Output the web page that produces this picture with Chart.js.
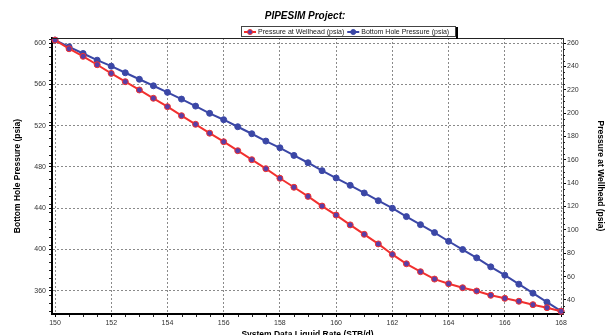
<!DOCTYPE html>
<html>
<head>
<meta charset="utf-8">
<script src="https://cdn.jsdelivr.net/npm/chart.js@4"></script>
<style>
html,body{margin:0;padding:0;background:#fff;}
#wrap{width:605px;height:335px;position:relative;}
canvas{display:block;}
</style>
</head>
<body>
<div id="wrap"><canvas id="c" width="605" height="335"></canvas></div>
<script>
// ---- data ----
const chartTitle = 'PIPESIM Project:';
const xTitle = 'System Data.Liquid Rate (STB/d)';
const leftTitle = 'Bottom Hole Pressure (psia)';
const rightTitle = 'Pressure at Wellhead (psia)';
const wellheadLabel = 'Pressure at Wellhead (psia)';
const bottomHoleLabel = 'Bottom Hole Pressure (psia)';

const rates = [150, 150.5, 151, 151.5, 152, 152.5, 153, 153.5, 154, 154.5,
               155, 155.5, 156, 156.5, 157, 157.5, 158, 158.5, 159, 159.5,
               160, 160.5, 161, 161.5, 162, 162.5, 163, 163.5, 164, 164.5,
               165, 165.5, 166, 166.5, 167, 167.5, 168];

const wellheadPressure = [262.5, 255.1, 248.6, 241.4, 234.0, 226.9, 219.8, 212.7, 205.5, 197.8,
                          190.4, 182.8, 175.5, 167.8, 160.1, 152.4, 144.2, 136.5, 128.7, 120.4,
                          112.7, 104.3, 96.2, 88.0, 79.0, 71.0, 64.2, 57.9, 53.9, 50.5,
                          47.7, 44.0, 41.4, 38.9, 36.0, 33.4, 30.3];

const bottomHolePressure = [603.0, 596.4, 590.0, 583.5, 577.7, 571.3, 565.0, 558.7, 552.3, 545.8,
                            539.0, 532.0, 525.8, 519.0, 512.2, 505.1, 498.6, 491.2, 484.1, 476.4,
                            469.3, 462.2, 454.8, 447.3, 440.0, 431.9, 424.1, 416.4, 408.0, 400.0,
                            391.9, 383.2, 375.1, 366.4, 357.7, 349.0, 340.3];

const xTicks = [150, 152, 154, 156, 158, 160, 162, 164, 166, 168];
const leftTicks = [360, 400, 440, 480, 520, 560, 600];
const rightTicks = [40, 60, 80, 100, 120, 140, 160, 180, 200, 220, 240, 260];

// ---- styling ----
const FONT = "'Liberation Sans', Arial, Helvetica, sans-serif";
const RED = '#f2302e';
const RED_FILL = '#5a3ea6';
const BLUE = '#3b47a6';
const GRID = '#8a8a8a';
const TICKTXT = '#333333';

const toPts = (xs, ys) => xs.map((x, i) => ({x: x, y: ys[i]}));

const decoPlugin = {
  id: 'deco',
  afterDraw(chart) {
    const ctx = chart.ctx;
    const a = chart.chartArea;
    const xs = chart.scales.x, yl = chart.scales.y, yr = chart.scales.y1;
    ctx.save();
    // top frame line
    ctx.strokeStyle = '#222';
    ctx.lineWidth = 1;
    ctx.beginPath();
    ctx.moveTo(a.left, Math.round(a.top) + 0.5);
    ctx.lineTo(a.right, Math.round(a.top) + 0.5);
    ctx.stroke();

    // minor ticks
    ctx.strokeStyle = '#222';
    ctx.beginPath();
    for (let v = 150; v <= 168; v += 0.5) {
      if (v % 2 === 0) continue;
      const px = Math.round(xs.getPixelForValue(v)) + 0.5;
      ctx.moveTo(px, a.bottom + 1);
      ctx.lineTo(px, a.bottom + 3);
    }
    for (let v = 340; v <= 604; v += 8) {
      if (v % 40 === 0) continue;
      const py = Math.round(yl.getPixelForValue(v)) + 0.5;
      ctx.moveTo(a.left - 3, py);
      ctx.lineTo(a.left - 1, py);
    }
    for (let v = 30; v <= 264; v += 5) {
      if (v % 20 === 0) continue;
      const py = Math.round(yr.getPixelForValue(v)) + 0.5;
      ctx.moveTo(a.right, py);
      ctx.lineTo(a.right + 2, py);
    }
    ctx.stroke();

    // chart title
    ctx.fillStyle = '#000';
    ctx.font = 'italic bold 10px ' + FONT;
    ctx.textAlign = 'center';
    ctx.textBaseline = 'middle';
    ctx.fillText(chartTitle, 305, 16);

    // legend
    const bx = 241, by = 26, bw = 215, bh = 11;
    ctx.fillStyle = '#fff';
    ctx.fillRect(bx, by, bw, bh);
    ctx.strokeStyle = '#444';
    ctx.lineWidth = 1;
    ctx.strokeRect(bx + 0.5, by + 0.5, bw - 1, bh - 1);
    ctx.fillStyle = '#000';
    ctx.fillRect(bx + bw, by + 1, 2, bh + 1);

    ctx.font = '7px ' + FONT;
    ctx.textAlign = 'left';
    ctx.textBaseline = 'middle';
    const ly = by + bh / 2 + 0.5;
    let cx = bx + 3;
    chart.data.datasets.forEach(ds => {
      ctx.strokeStyle = ds.borderColor;
      ctx.lineWidth = 2;
      ctx.beginPath();
      ctx.moveTo(cx, ly);
      ctx.lineTo(cx + 12, ly);
      ctx.stroke();
      ctx.beginPath();
      ctx.arc(cx + 6, ly, 2.5, 0, Math.PI * 2);
      ctx.fillStyle = ds.pointBackgroundColor;
      ctx.fill();
      ctx.lineWidth = 1;
      ctx.strokeStyle = ds.pointBorderColor;
      ctx.stroke();
      ctx.fillStyle = '#222';
      ctx.fillText(ds.label, cx + 14, ly);
      cx += 14 + ctx.measureText(ds.label).width + 3;
    });
    ctx.restore();
  }
};

new Chart(document.getElementById('c'), {
  type: 'line',
  data: {
    datasets: [
      {
        label: wellheadLabel,
        data: toPts(rates, wellheadPressure),
        yAxisID: 'y1',
        borderColor: RED,
        borderWidth: 2,
        pointRadius: 3,
        pointBackgroundColor: RED_FILL,
        pointBorderColor: RED,
        pointBorderWidth: 1,
        tension: 0,
        clip: false
      },
      {
        label: bottomHoleLabel,
        data: toPts(rates, bottomHolePressure),
        yAxisID: 'y',
        borderColor: BLUE,
        borderWidth: 2,
        pointRadius: 3,
        pointBackgroundColor: BLUE,
        pointBorderColor: BLUE,
        pointBorderWidth: 1,
        tension: 0,
        clip: false
      }
    ]
  },
  options: {
    responsive: false,
    animation: false,
    devicePixelRatio: 1,
    layout: {padding: {top: 38, left: 0, right: 0, bottom: 0}},
    plugins: {
      legend: {display: false},
      title: {display: false},
      tooltip: {enabled: false}
    },
    scales: {
      x: {
        type: 'linear',
        position: 'bottom',
        min: 149.893,
        max: 168.07,
        afterBuildTicks: s => { s.ticks = xTicks.map(v => ({value: v})); },
        afterFit: s => { s.height = 21; },
        ticks: {font: {size: 7, family: FONT}, color: TICKTXT, padding: 2, maxRotation: 0},
        grid: {color: GRID, lineWidth: 1, tickLength: 3, tickColor: '#000', tickBorderDash: [], tickWidth: 1},
        border: {color: '#000', width: 2, dash: [2, 2]},
        title: {display: true, text: xTitle, color: '#000',
                font: {size: 8.5, weight: 'bold', family: FONT}, padding: {top: 0, bottom: -5}}
      },
      y: {
        type: 'linear',
        position: 'left',
        min: 337.5,
        max: 605,
        afterBuildTicks: s => { s.ticks = leftTicks.map(v => ({value: v})); },
        afterFit: s => { s.width = 52; },
        ticks: {font: {size: 7, family: FONT}, color: TICKTXT, padding: 3},
        grid: {color: GRID, lineWidth: 1, tickLength: 3, tickColor: '#000', tickBorderDash: [], tickWidth: 1},
        border: {color: '#000', width: 2, dash: [2, 2]},
        title: {display: true, text: leftTitle, color: '#000',
                font: {size: 8.5, weight: 'bold', family: FONT}, padding: {top: 13, bottom: 0}}
      },
      y1: {
        type: 'linear',
        position: 'right',
        min: 28,
        max: 264.3,
        afterBuildTicks: s => { s.ticks = rightTicks.map(v => ({value: v})); },
        afterFit: s => { s.width = 42; },
        ticks: {font: {size: 7, family: FONT}, color: TICKTXT, padding: 1},
        grid: {drawOnChartArea: false, drawTicks: true, tickLength: 3, tickColor: '#000', tickBorderDash: [], tickWidth: 1},
        border: {color: '#333', width: 1},
        title: {display: true, text: rightTitle, color: '#000',
                font: {size: 8.5, weight: 'bold', family: FONT}, padding: {top: 0, bottom: 0}}
      }
    }
  },
  plugins: [decoPlugin]
});
</script>
</body>
</html>
